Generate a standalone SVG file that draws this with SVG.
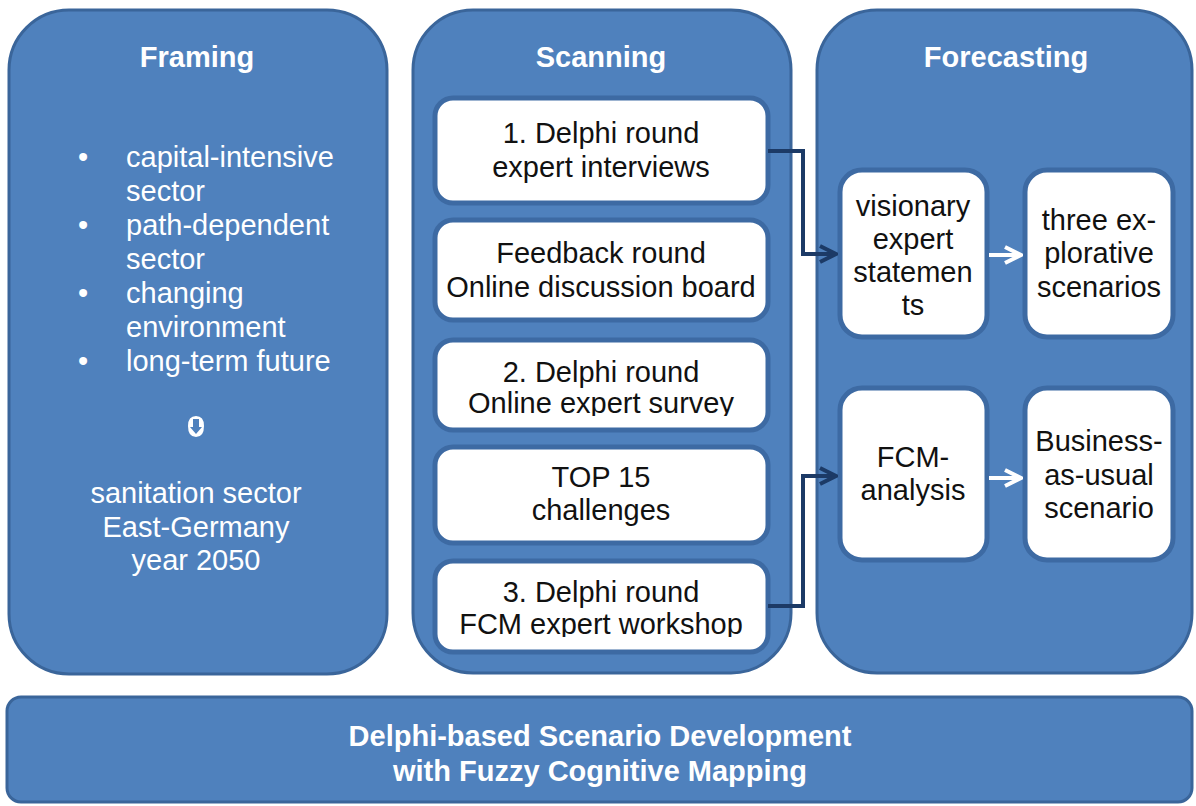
<svg xmlns="http://www.w3.org/2000/svg" width="1196" height="806" viewBox="0 0 1196 806">
<defs>
<style>
.panel{fill:#4f81bd;stroke:#3a659a;stroke-width:3}
.box{fill:#ffffff;stroke:#3d6aa3;stroke-width:5}
.ttl{font-family:"Liberation Sans",Arial,sans-serif;font-weight:bold;font-size:29px;fill:#ffffff;text-anchor:middle}
.wt{font-family:"Liberation Sans",Arial,sans-serif;font-size:29px;fill:#ffffff}
.bt{font-family:"Liberation Sans",Arial,sans-serif;font-size:29px;fill:#111111;text-anchor:middle}
.dk{fill:none;stroke:#1c3a66;stroke-width:4}
.wa{fill:none;stroke:#ffffff;stroke-width:4}
</style>
<marker id="ad" viewBox="0 0 10 10" refX="9" refY="5" markerWidth="5" markerHeight="5" orient="auto" markerUnits="strokeWidth">
<path d="M1,1 L9,5 L1,9" fill="none" stroke="#1c3a66" stroke-width="2"/>
</marker>
<marker id="aw" viewBox="0 0 10 10" refX="9" refY="5" markerWidth="5" markerHeight="5" orient="auto" markerUnits="strokeWidth">
<path d="M1,1 L9,5 L1,9" fill="none" stroke="#ffffff" stroke-width="2"/>
</marker>
<clipPath id="c3"><rect x="430" y="330" width="345" height="86"/></clipPath>
<clipPath id="c5"><rect x="430" y="555" width="345" height="82"/></clipPath>
</defs>
<rect width="1196" height="806" fill="#ffffff"/>

<g id="framing">
<rect class="panel" x="9" y="10" width="378" height="664" rx="60"/>
<text class="ttl" x="197" y="67">Framing</text>
<text class="wt" x="78" y="167">•</text>
<text class="wt" x="126" y="167">capital-intensive</text>
<text class="wt" x="126" y="201">sector</text>
<text class="wt" x="78" y="235">•</text>
<text class="wt" x="126" y="235">path-dependent</text>
<text class="wt" x="126" y="269">sector</text>
<text class="wt" x="78" y="303">•</text>
<text class="wt" x="126" y="303">changing</text>
<text class="wt" x="126" y="337">environment</text>
<text class="wt" x="78" y="371">•</text>
<text class="wt" x="126" y="371">long-term future</text>
<path d="M196,416 Q188,416 188,426 Q188,437 196,437 Q204,437 204,426 Q204,416 196,416 Z M193,419 L199,419 L199,427 L202,427 L196,434 L190,427 L193,427 Z" fill="#ffffff" fill-rule="evenodd"/>
<text class="wt" x="196" y="503" text-anchor="middle">sanitation sector</text>
<text class="wt" x="196" y="537" text-anchor="middle">East-Germany</text>
<text class="wt" x="196" y="570" text-anchor="middle">year 2050</text>
</g>

<g id="scanning">
<rect class="panel" x="413" y="10" width="378" height="663" rx="60"/>
<text class="ttl" x="601" y="67">Scanning</text>
</g>

<g id="forecasting">
<rect class="panel" x="817" y="10" width="375" height="663" rx="60"/>
<text class="ttl" x="1006" y="67">Forecasting</text>
</g>

<g id="delphi1">
<rect class="box" x="435" y="98" width="333" height="105" rx="18"/>
<text class="bt" x="601" y="143">1. Delphi round</text>
<text class="bt" x="601" y="177">expert interviews</text>
</g>
<g id="feedback">
<rect class="box" x="435" y="220" width="333" height="100" rx="18"/>
<text class="bt" x="601" y="263">Feedback round</text>
<text class="bt" x="601" y="297">Online discussion board</text>
</g>
<g id="delphi2">
<rect class="box" x="435" y="340" width="333" height="90" rx="18"/>
<text class="bt" x="601" y="382">2. Delphi round</text>
<text class="bt" x="601" y="413" clip-path="url(#c3)">Online expert survey</text>
</g>
<g id="top15">
<rect class="box" x="435" y="447" width="333" height="96" rx="18"/>
<text class="bt" x="601" y="487">TOP 15</text>
<text class="bt" x="601" y="520">challenges</text>
</g>
<g id="delphi3">
<rect class="box" x="435" y="561" width="333" height="91" rx="18"/>
<text class="bt" x="601" y="602">3. Delphi round</text>
<text class="bt" x="601" y="634" clip-path="url(#c5)">FCM expert workshop</text>
</g>

<g id="visionary">
<rect class="box" x="840" y="170" width="147" height="167" rx="22"/>
<text class="bt" x="913" y="216">visionary</text>
<text class="bt" x="913" y="249">expert</text>
<text class="bt" x="913" y="282">statemen</text>
<text class="bt" x="913" y="315">ts</text>
</g>
<g id="explorative">
<rect class="box" x="1025" y="170" width="148" height="167" rx="22"/>
<text class="bt" x="1099" y="230">three ex-</text>
<text class="bt" x="1099" y="263">plorative</text>
<text class="bt" x="1099" y="297">scenarios</text>
</g>
<g id="fcm">
<rect class="box" x="840" y="388" width="147" height="172" rx="22"/>
<text class="bt" x="913" y="467">FCM-</text>
<text class="bt" x="913" y="500">analysis</text>
</g>
<g id="bau">
<rect class="box" x="1025" y="388" width="148" height="172" rx="22"/>
<text class="bt" x="1099" y="451">Business-</text>
<text class="bt" x="1099" y="485">as-usual</text>
<text class="bt" x="1099" y="518">scenario</text>
</g>

<g id="connectors">
<path class="dk" d="M768,151 H803 V254 H836" marker-end="url(#ad)"/>
<path class="dk" d="M768,606 H803 V476 H836" marker-end="url(#ad)"/>
<path class="wa" d="M989,255 H1021" marker-end="url(#aw)"/>
<path class="wa" d="M989,478 H1021" marker-end="url(#aw)"/>
</g>

<g id="footer">
<rect class="panel" x="7" y="697" width="1185" height="105" rx="14"/>
<text class="ttl" x="600" y="746">Delphi-based Scenario Development</text>
<text class="ttl" x="600" y="781">with Fuzzy Cognitive Mapping</text>
</g>
</svg>
